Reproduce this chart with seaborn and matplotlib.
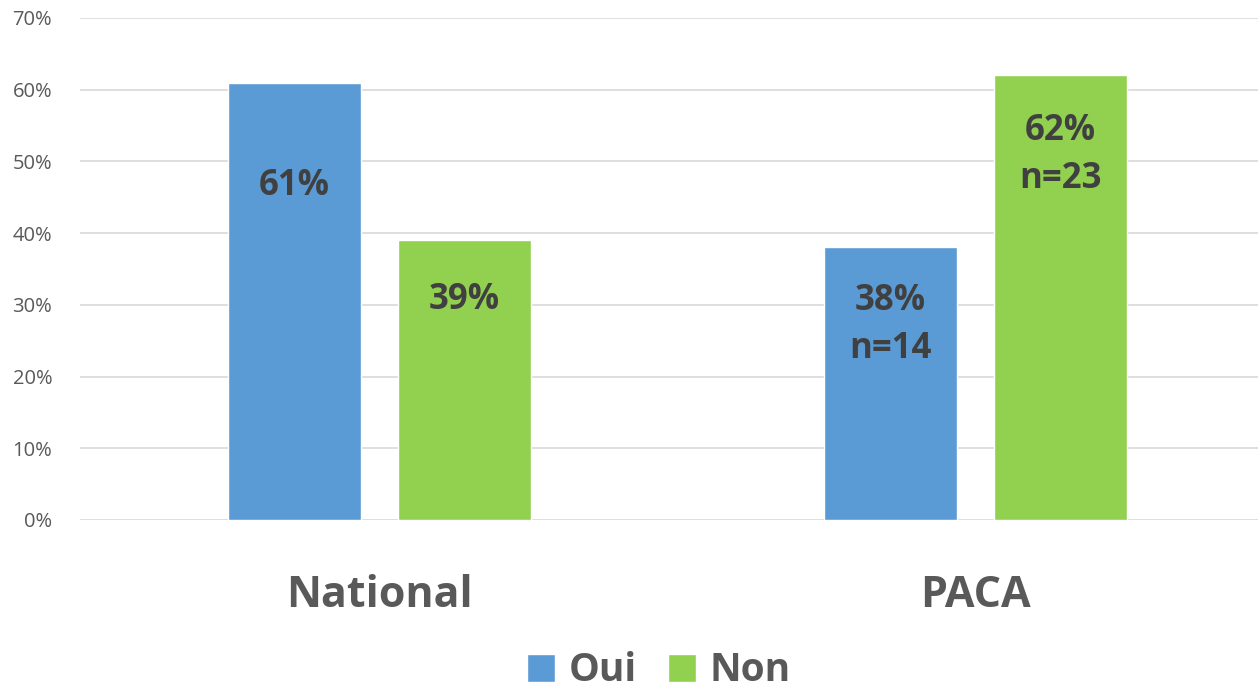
import pandas as pd
import matplotlib.pyplot as plt
import seaborn as sns
from matplotlib.patches import Patch

# -----------------------------
# Données
categories = ['National', 'PACA']
reponses = ['Oui', 'Non']
oui_pct = [61, 38]
non_pct = [39, 62]
oui_labels = ['61%', '38%\nn=14']
non_labels = ['39%', '62%\nn=23']

couleurs = {'Oui': '#5B9BD5', 'Non': '#92D050'}

df = pd.DataFrame({
    'Zone': categories * 2,
    'Reponse': ['Oui'] * 2 + ['Non'] * 2,
    'Pct': oui_pct + non_pct,
    'Label': oui_labels + non_labels,
})

# -----------------------------
# Style
sns.set_theme(style="white")
plt.rcParams['font.family'] = ['Open Sans', 'DejaVu Sans']

fig = plt.figure(figsize=(12.58, 6.91), dpi=100)
ax = fig.add_axes([0.0636, 0.2475, 0.9364, 0.7265])

sns.barplot(data=df, x='Zone', y='Pct', hue='Reponse', order=categories,
            hue_order=reponses, palette=couleurs, width=0.57, gap=0.22,
            saturation=1, legend=False, ax=ax, zorder=3)

ax.set_ylim(0, 70)
ax.set_xlim(-0.5025, 1.474)
ax.set_yticks(range(0, 71, 10))
ax.set_yticklabels([f"{v}%" for v in range(0, 71, 10)], fontsize=14.5, color='#595959')
ax.yaxis.grid(True, color='#D9D9D9', linewidth=1.2, zorder=0)
ax.set_axisbelow(True)
ax.tick_params(axis='y', length=0, pad=20)
ax.tick_params(axis='x', length=0, pad=39)
for lbl in ax.get_xticklabels():
    lbl.set_fontsize(31)
    lbl.set_fontweight('bold')
    lbl.set_color('#595959')
for s in ax.spines.values():
    s.set_visible(False)
ax.set_xlabel('')
ax.set_ylabel('')

# -----------------------------
# Étiquettes dans les barres (décalage sous le sommet)
decalages = {'Oui': [14.4, 10.8], 'Non': [8.3, 11.1]}
for cont, rep in zip(ax.containers, reponses):
    sub = df[df['Reponse'] == rep].set_index('Zone').loc[categories]
    for bar, (_, row), d in zip(cont, sub.iterrows(), decalages[rep]):
        ax.text(bar.get_x() + bar.get_width() / 2, row['Pct'] - d, row['Label'],
                ha='center', va='center', fontsize=25, fontweight='bold',
                color='#404040', linespacing=1.42, zorder=4)

# -----------------------------
# Légende
handles = [Patch(facecolor=couleurs[r], label=r) for r in reponses]
leg = fig.legend(handles=handles, loc='center', ncol=2, frameon=False,
                 bbox_to_anchor=(0.524, 0.029), handlelength=0.72, handleheight=0.72,
                 handletextpad=0.35, columnspacing=0.8,
                 prop={'size': 28, 'weight': 'bold', 'family': ['Open Sans', 'DejaVu Sans']})
for t in leg.get_texts():
    t.set_color('#595959')

fig.savefig('out.png', dpi=100)
